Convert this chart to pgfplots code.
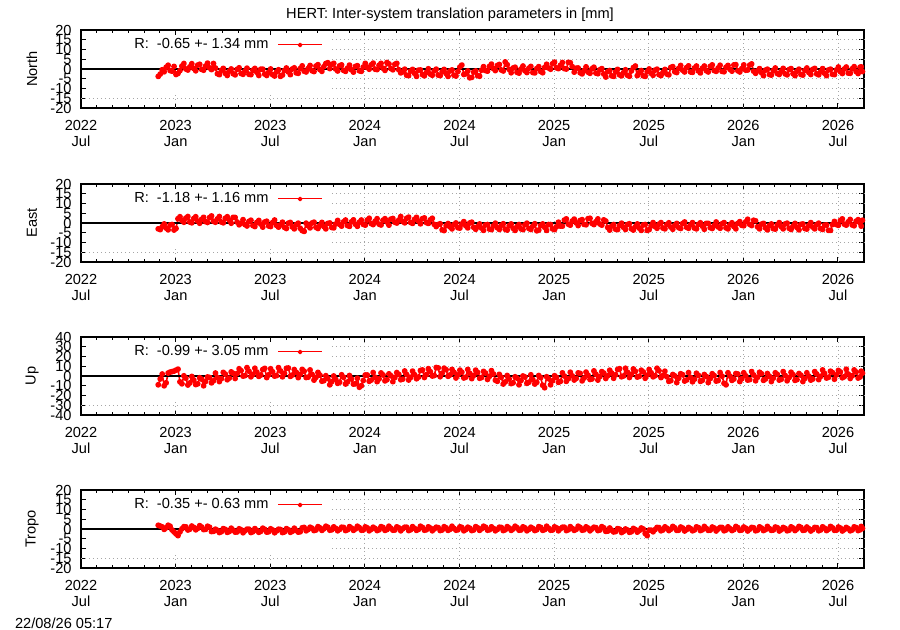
\documentclass[border=0pt]{standalone}
\usepackage{fontspec}
\setmainfont{Liberation Sans}
\usepackage{pgfplots}
\usepackage{pgfplotstable}
\pgfplotsset{compat=1.18}

% columns: month since 2022 Jul, North, East, Up, Tropo [mm]
\pgfplotstableread{
x n e u t
4.9 -3.8 -3.0 -9.0 1.9
5.025 -2.6 -3.4 -3.0 1.5
5.15 -0.4 -1.9 2.0 1.1
5.275 -1.4 -0.5 -10.0 -0.2
5.4 0.9 -2.6 -7.0 0.6
5.525 1.9 -3.5 3.0 1.9
5.65 -0.8 -1.0 4.0 1.4
5.775 -1.1 -0.8 4.5 -0.5
5.9 1.3 -3.6 5.0 -1.5
6.025 -2.8 -2.8 6.0 -2.5
6.15 -2.3 2.2 7.0 -3.4
6.275 -0.8 3.2 -6.0 -1.5
6.4 1.5 1.3 -8.0 0.1
6.525 2.8 0.4 0.2 1.2
6.65 0.0 2.5 -2.3 1.1
6.775 -0.5 3.3 -9.2 -0.5
6.9 1.1 0.5 -7.1 -0.1
7.025 2.7 0.1 -0.5 1.5
7.15 0.3 2.3 -4.1 0.8
7.275 -0.9 3.2 -8.8 -0.4
7.4 2.0 1.0 -8.0 0.3
7.525 2.4 -0.1 -1.8 1.7
7.65 -0.2 1.9 -3.2 1.0
7.775 -0.6 2.9 -10.0 -0.3
7.9 1.5 0.7 -5.6 -0.2
8.025 3.0 0.3 -1.0 1.4
8.15 0.6 2.8 -1.5 0.9
8.275 -0.3 3.6 -7.0 -1.3
8.4 2.8 0.9 -4.9 -1.2
8.525 0.5 0.4 3.0 -0.1
8.65 -2.4 2.1 -1.5 -0.7
8.775 -2.9 3.3 -5.7 -1.8
8.9 -0.7 0.5 -2.7 -1.4
9.025 0.3 0.1 3.7 0.2
9.15 -2.2 2.4 1.9 -0.2
9.275 -3.3 3.2 -3.8 -1.7
9.4 -1.1 1.5 -2.2 -1.3
9.525 0.0 -0.1 4.2 0.4
9.65 -2.4 2.9 2.7 -0.6
9.775 -3.0 2.8 -2.5 -1.6
9.9 -0.2 0.5 2.5 -1.5
10.025 0.6 -0.9 7.4 0.1
10.15 -2.3 -0.1 5.5 -0.4
10.275 -2.7 1.7 -0.1 -1.9
10.4 -1.0 -0.8 0.4 -0.9
10.525 0.4 -1.5 8.6 -0.1
10.65 -2.7 0.8 4.9 -0.1
10.775 -2.9 1.4 -0.8 -1.8
10.9 -0.6 -1.3 1.6 -1.4
11.025 0.3 -1.8 7.9 0.2
11.15 -1.7 0.3 4.0 -0.7
11.275 -3.3 1.3 -0.4 -1.7
11.4 -0.1 -0.6 1.0 -1.2
11.525 -0.1 -2.1 6.6 0.4
11.65 -2.6 0.5 7.8 -0.2
11.775 -3.3 0.9 -1.6 -1.6
11.9 -1.7 -1.5 1.3 -1.4
12.025 0.0 -1.8 7.4 0.1
12.15 -2.9 0.2 4.3 -0.5
12.275 -3.6 1.5 -0.1 -1.9
12.4 -1.5 -1.2 0.4 -1.0
12.525 -0.4 -2.1 8.6 -0.1
12.65 -3.8 -1.0 5.2 -0.3
12.775 -3.1 0.4 -0.8 -1.8
12.9 -0.8 -2.2 2.8 -1.5
13.025 0.5 -2.8 7.9 0.2
13.15 -1.5 -0.1 8.2 -0.4
13.275 -2.9 0.3 -0.4 -1.7
13.4 0.0 -2.0 1.0 -1.2
13.525 0.6 -3.0 6.6 0.4
13.65 -2.0 -0.8 3.7 -0.7
13.775 -2.2 -0.1 -1.7 -1.6
13.9 0.2 -2.7 1.7 -1.4
14.025 1.6 -3.9 6.8 0.6
14.15 -1.1 -4.3 4.9 0.8
14.275 -1.5 -0.1 -1.5 -0.9
14.4 0.2 -1.4 -1.2 -0.3
14.525 1.8 -2.5 6.2 0.9
14.65 -0.9 0.0 1.7 0.4
14.775 -1.3 0.4 -4.2 -0.8
14.9 1.5 -2.2 -1.4 -0.5
15.025 2.2 -2.8 3.7 1.2
15.15 -0.3 -1.1 0.9 0.6
15.275 -1.2 0.3 -5.3 -0.7
15.4 1.2 -1.8 -4.8 0.1
15.525 2.8 -3.0 0.3 1.4
15.65 3.2 -0.2 -2.5 0.9
15.775 0.2 0.0 -9.0 -0.6
15.9 2.3 -2.3 -5.8 -0.4
16.025 2.9 -2.5 0.0 1.1
16.15 0.0 -0.5 -3.4 0.3
16.275 -1.0 1.3 -7.5 -0.9
16.4 1.6 -0.7 -6.4 -0.2
16.525 2.1 -1.6 1.2 0.9
16.65 -0.7 0.6 -1.3 0.8
16.775 -1.2 1.5 -8.2 -0.8
16.9 0.4 -1.3 -6.1 -0.4
17.025 2.0 -1.7 0.5 1.2
17.15 -0.4 0.6 -3.1 0.5
17.275 -1.6 1.6 -8.3 -0.7
17.4 1.3 -0.6 -8.0 0.0
17.525 1.7 -1.7 -2.3 1.4
17.65 -0.9 0.4 -11.5 0.7
17.775 -1.2 1.5 -10.0 -0.6
17.9 1.0 -0.7 -4.6 -0.5
18.025 2.9 -1.1 1.0 1.1
18.15 0.8 1.5 1.0 0.6
18.275 -0.1 2.4 -5.4 -0.9
18.4 2.1 -0.3 -4.2 -0.2
18.525 3.0 -0.8 3.5 0.9
18.65 -0.1 0.9 -1.3 0.3
18.775 -0.3 2.2 -5.8 -0.8
18.9 1.9 -0.6 -3.0 -0.4
19.025 2.9 -1.0 3.1 1.2
19.15 0.4 1.4 1.1 0.8
19.275 -0.7 2.2 -5.0 -0.7
19.4 3.3 0.5 -3.8 -0.3
19.525 2.6 -1.1 2.2 1.4
19.65 0.2 2.0 0.3 0.4
19.775 -0.4 2.3 -5.8 -0.6
19.9 2.4 0.4 -1.6 -0.5
20.025 2.9 0.0 3.5 1.1
20.15 -0.4 1.5 1.7 0.6
20.275 -2.0 3.3 -3.8 -0.9
20.4 -1.5 0.8 -3.2 0.1
20.525 -0.1 0.1 5.1 0.9
20.65 -3.2 2.4 1.5 0.9
20.775 -3.4 3.0 -4.1 -0.8
20.9 -1.1 0.3 -1.5 -0.4
21.025 -0.2 -0.2 5.0 1.2
21.15 -2.2 1.9 1.4 0.3
21.275 -3.8 2.9 -2.8 -0.7
21.4 -0.6 1.0 -1.1 -0.2
21.525 -0.5 -0.4 5.6 1.4
21.65 -2.9 2.2 6.2 0.8
21.775 -3.5 2.6 -1.5 -0.6
21.9 -1.8 0.2 1.4 -0.4
22.025 0.1 -0.2 7.5 1.1
22.15 -2.6 1.6 4.4 0.5
22.275 -3.2 2.4 0.0 -0.9
22.4 -0.9 -0.7 0.5 0.0
22.525 -0.1 -1.8 8.7 0.9
22.65 -3.1 -0.8 8.3 0.7
22.775 -3.4 -0.4 -0.7 -0.8
22.9 -1.4 -3.5 2.9 -0.5
23.025 -0.2 -3.9 8.0 1.2
23.15 -2.3 -1.4 6.5 0.6
23.275 -3.8 -0.3 -0.3 -0.7
23.4 -1.0 -2.0 1.1 -0.2
23.525 -0.5 -3.0 6.7 1.4
23.65 -3.2 -0.8 3.8 0.3
23.775 -3.6 0.0 -2.0 -0.6
23.9 -1.3 -2.4 1.0 -0.4
24.025 1.0 -2.6 6.0 1.1
24.15 2.0 -0.5 3.9 0.8
24.275 -2.8 0.7 -2.0 -0.9
24.4 -2.5 -1.4 -1.2 -0.3
24.525 -1.0 -2.5 6.7 0.9
24.65 -4.5 0.0 2.7 0.4
24.775 -4.3 0.4 -2.7 -0.8
24.9 -1.6 -2.2 0.6 -0.5
25.025 -1.0 -3.2 6.0 1.2
25.15 -3.4 -1.9 3.6 0.6
25.275 -3.7 -0.5 -2.3 -0.7
25.4 -0.6 -2.6 -1.5 0.1
25.525 1.2 -3.8 4.7 1.4
25.65 -0.8 -1.0 3.0 0.9
25.775 -1.1 -0.8 -3.5 -0.6
25.9 1.3 -3.1 -0.3 -0.4
26.025 2.5 -3.4 5.5 1.1
26.15 0.2 -1.5 2.1 0.3
26.275 -0.8 -0.1 -4.3 -0.9
26.4 1.8 -2.4 -5.4 -0.2
26.525 2.3 -3.3 1.7 0.9
26.65 -0.5 -1.2 -1.3 0.8
26.775 -1.0 -0.4 -8.2 -0.8
26.9 3.6 -3.2 -6.1 -0.4
27.025 2.2 -3.6 0.5 1.2
27.15 -0.2 -1.4 -3.1 0.5
27.275 -1.9 -0.5 -7.8 -0.7
27.4 0.5 -2.7 -7.0 0.0
27.525 0.9 -3.8 -0.8 1.4
27.65 -1.7 -1.8 -2.2 0.7
27.775 -2.1 -0.8 -9.0 -0.6
27.9 0.0 -3.0 -4.6 -0.5
28.025 1.5 -3.4 0.0 1.1
28.15 -0.9 -0.9 -1.0 0.6
28.275 -1.8 -0.1 -7.5 -0.9
28.4 0.4 -2.8 -6.4 -0.2
28.525 1.3 -3.3 1.2 0.9
28.65 -1.8 -1.6 -3.7 0.3
28.775 -2.0 -0.4 -8.2 -0.8
28.9 0.2 -4.0 -6.5 -0.4
29.025 1.2 -3.6 0.5 1.2
29.15 -1.3 -1.3 -1.6 0.8
29.275 -1.9 -0.5 -9.5 -0.7
29.4 0.8 -2.2 -12.0 -0.3
29.525 2.4 -3.8 -0.8 1.4
29.65 0.5 -0.8 -2.8 0.4
29.775 -0.1 -0.8 -9.0 -0.6
29.9 2.7 -3.0 -4.9 -0.5
30.025 3.5 -3.4 0.3 1.1
30.15 0.6 -1.9 -1.4 0.6
30.275 0.2 0.4 -6.5 -0.9
30.4 1.9 -1.6 -5.5 0.1
30.525 3.3 -1.6 3.2 0.9
30.65 0.2 1.5 0.0 0.9
30.775 0.0 2.1 -5.5 -0.8
30.9 3.4 -0.6 -2.8 -0.4
31.025 3.2 -1.1 3.8 1.2
31.15 1.2 1.0 0.1 0.3
31.275 -1.6 2.0 -4.1 -0.7
31.4 0.4 0.1 -2.4 -0.2
31.525 0.5 -1.3 3.2 1.4
31.65 -1.9 1.3 2.7 0.8
31.775 -2.5 1.7 -5.0 -0.6
31.9 -0.8 -0.7 -2.1 -0.4
32.025 1.1 -0.9 4.0 1.1
32.15 -1.6 2.2 0.9 0.5
32.275 -2.2 2.4 -3.5 -0.9
32.4 0.1 -0.2 -3.0 0.0
32.525 0.9 -0.8 5.2 0.9
32.65 -2.1 0.7 1.8 0.7
32.775 -2.4 2.1 -4.2 -0.8
32.9 -0.4 -0.5 -0.6 -0.5
33.025 0.2 -1.1 4.5 1.2
33.15 -2.6 1.6 3.0 0.6
33.275 -4.1 1.0 -2.5 -1.2
33.4 -1.3 -2.3 0.3 -1.1
33.525 -0.8 -3.6 5.9 0.5
33.65 -3.5 -1.6 3.0 -0.6
33.775 -3.8 -0.8 -2.3 -1.5
33.9 -1.5 -3.2 1.2 -1.3
34.025 -0.2 -3.4 6.7 0.2
34.15 -3.0 -1.3 7.5 -0.1
34.275 -3.5 -0.1 -0.8 -1.8
34.4 -1.9 -2.2 0.0 -1.2
34.525 -0.4 -3.3 7.9 0.0
34.65 -3.2 -0.8 3.9 -0.5
34.775 -3.7 -0.4 -1.5 -1.7
34.9 -1.0 -3.0 1.8 -1.4
35.025 0.7 -3.6 7.2 0.3
35.15 1.5 -1.9 4.8 -0.3
35.275 -3.4 -0.5 -1.1 -1.6
35.4 -1.8 -2.6 -0.3 -0.8
35.525 -0.8 -3.8 5.9 0.5
35.65 -3.5 -1.0 4.2 0.0
35.775 -3.8 -0.8 -2.3 -2.3
35.9 -1.4 -3.8 0.9 -3.4
36.025 0.0 -3.4 6.7 -0.6
36.15 -2.2 -1.5 3.3 -0.6
36.275 -3.2 0.2 -0.8 -1.4
36.4 -0.6 -1.8 0.3 -0.3
36.525 -0.1 -2.7 7.9 0.8
36.65 -2.9 -0.6 5.4 0.7
36.775 -3.4 0.2 -1.6 -0.9
36.9 -1.8 -2.6 0.4 -0.5
37.025 -0.2 -3.0 4.9 1.1
37.15 -2.6 -0.8 -0.8 0.4
37.275 -3.0 0.1 -5.5 -0.8
37.4 0.8 -2.1 -4.7 -0.1
37.525 1.2 -3.2 1.5 1.3
37.65 -1.4 -1.2 0.1 0.6
37.775 -1.8 -0.2 -6.7 -0.7
37.9 0.3 -2.4 -2.3 -0.6
38.025 1.8 -2.8 2.3 1.0
38.15 -0.6 -0.3 1.3 0.5
38.275 -1.5 0.5 -5.2 -1.0
38.4 0.7 -2.2 -4.1 -0.3
38.525 1.6 -2.7 3.5 0.8
38.65 -1.5 -1.0 -1.4 0.2
38.775 -1.7 0.2 -5.9 -0.9
38.9 0.5 -2.6 -3.2 -0.5
39.025 1.5 -3.0 2.8 1.1
39.15 -1.0 -0.7 0.7 0.7
39.275 -2.0 0.1 -5.5 -0.8
39.4 0.4 -1.6 -4.4 -0.4
39.525 1.5 -3.2 1.5 1.3
39.65 -0.9 -0.2 -0.5 0.3
39.775 -1.5 -0.2 -6.7 -0.7
39.9 1.3 -2.4 -2.6 -0.6
40.025 2.1 -2.8 2.3 1.0
40.15 -0.8 -1.3 0.4 0.5
40.275 -1.2 0.5 -5.2 -1.0
40.4 0.5 -2.0 -4.7 0.0
40.525 1.9 -2.7 3.5 0.8
40.65 -1.2 -0.4 -0.2 0.8
40.775 -1.4 0.2 -7.5 -0.9
40.9 0.9 -2.5 -9.0 -0.5
41.025 1.8 -3.0 3.3 1.1
41.15 -0.2 -0.9 -0.1 0.2
41.275 -1.1 0.1 -4.5 -0.8
41.4 2.1 -1.8 -3.1 -0.3
41.525 2.2 -3.0 2.5 1.3
41.65 -0.9 -0.2 2.0 0.7
41.775 -1.5 0.7 -5.7 -0.7
41.9 0.2 -1.2 -2.8 -0.5
42.025 2.1 -1.4 3.3 1.0
42.15 -0.6 0.6 0.2 0.4
42.275 -0.5 1.9 -4.2 -1.0
42.4 2.0 -0.7 -3.7 -0.1
42.525 2.6 -1.3 4.5 0.8
42.65 -1.1 1.4 1.1 0.6
42.775 -2.2 1.1 -4.9 -0.9
42.9 -1.0 -2.0 -1.3 -0.6
43.025 0.2 -3.0 3.8 1.1
43.15 -1.9 -0.6 2.3 0.5
43.275 -3.4 -0.2 -4.5 -0.8
43.4 -0.6 -2.5 -3.1 -0.3
43.525 -0.1 -3.5 2.5 1.3
43.65 -2.8 -1.3 -0.4 0.2
43.775 -3.1 -0.5 -5.7 -0.7
43.9 -0.8 -2.9 -2.2 -0.5
44.025 0.5 -3.1 3.3 1.0
44.15 -2.3 -1.0 1.7 0.7
44.275 -2.8 0.2 -4.2 -1.0
44.4 -1.2 -1.9 -3.4 -0.4
44.525 0.3 -3.0 4.5 0.8
44.65 -2.5 -0.5 0.5 0.3
44.775 -3.0 -0.1 -4.9 -0.9
44.9 -0.3 -2.7 -1.6 -0.6
45.025 0.2 -3.3 3.8 1.1
45.15 -2.4 -1.6 1.4 0.5
45.275 -3.4 -0.2 -4.5 -0.8
45.4 -1.1 -2.3 -3.7 0.0
45.525 -0.1 -3.5 2.5 1.3
45.65 -2.8 -0.7 0.8 0.8
45.775 -3.1 -0.5 -5.7 -0.7
45.9 -0.7 -2.8 -2.5 -0.5
46.025 0.5 -3.1 3.3 1.0
46.15 -1.8 -1.2 -0.1 0.2
46.275 -2.8 0.2 -4.2 -1.0
46.4 -0.2 -2.1 -3.1 -0.3
46.525 0.3 -3.0 4.5 0.8
46.65 -2.5 -0.9 2.0 0.7
46.775 -3.0 -0.1 -3.7 -0.9
46.9 -1.4 -2.9 -0.4 -0.5
47.025 0.2 -3.3 6.2 1.1
47.15 -2.2 -1.1 2.6 0.4
47.275 -3.4 -1.0 -2.1 -0.8
47.4 -0.5 -3.8 -1.3 -0.1
47.525 -0.1 -3.8 4.9 1.3
47.65 -2.7 -0.8 3.5 0.6
47.775 -2.9 0.8 -3.3 -0.7
47.9 -0.5 -0.8 1.1 -0.6
48.025 1.0 -1.2 5.7 1.0
48.15 -1.4 1.3 4.2 0.5
48.275 -2.3 2.1 -1.8 -1.0
48.4 0.0 -0.6 -0.7 -0.3
48.525 1.0 -1.1 6.9 0.8
48.65 -2.1 0.6 2.0 0.2
48.775 -2.2 1.8 -2.5 -0.9
48.9 0.1 -1.0 0.2 -0.5
49.025 1.2 -1.4 6.2 1.1
49.15 -1.3 0.9 4.1 0.7
49.275 -2.3 1.7 -2.1 -0.8
49.4 0.9 0.0 -1.0 -0.4
49.475 1.1 -1.6 4.9 1.3
49.55 -1.3 1.4 2.9 0.3
}\hert

\newcommand\fs{\fontsize{7.3}{7.8}\selectfont}

\tikzset{gridline/.style={gray!70, line width=0.4pt, dash pattern=on 0.5pt off 1.5pt}}

% dotted grid, left blank where gnuplot's opaque key box sits
% #1 levels right of the box, #2 ymin, #3 ymax, #4 box bottom, #5 full-width level
\newcommand\panelgrid[5]{%
  \pgfplotsinvokeforeach{#1}{\draw[gridline] (axis cs:15.9,##1) -- (axis cs:49.65,##1);}%
  \draw[gridline] (axis cs:0,#5) -- (axis cs:49.65,#5);%
  \pgfplotsinvokeforeach{18,24,30,36,42,48}{\draw[gridline] (axis cs:##1,#2) -- (axis cs:##1,#3);}%
  \pgfplotsinvokeforeach{6,12}{\draw[gridline] (axis cs:##1,#2) -- (axis cs:##1,#4);}%
}

\pgfplotsset{
  panel/.style={
    scale only axis, width=391.5pt, height=39pt,
    anchor=north west, clip=false,
    xmin=0, xmax=49.65,
    xtick={0,6,12,18,24,30,36,42,48},
    minor x tick num=5,
    xticklabels={{2022\\Jul},{2023\\Jan},{2023\\Jul},{2024\\Jan},{2024\\Jul},{2025\\Jan},{2025\\Jul},{2026\\Jan},{2026\\Jul}},
    xticklabel style={align=center, inner sep=0pt, font=\fs},
    yticklabel style={inner sep=0pt, font=\fs},
    xticklabel shift=6pt, yticklabel shift=4.5pt,
    tick align=inside,
    major tick length=2.5pt, minor tick length=1.5pt,
    tick style={black, line width=0.5pt},
    axis line style={line width=1pt},
    legend plot pos=right,
    legend style={at={(rel axis cs:0.309,0.808)}, anchor=east, draw=none, fill=none,
      inner sep=0pt, column sep=4.5pt, font=\fs, nodes={inner sep=0pt}},
    legend image code/.code={%
      \draw[red, line width=0.5pt] (0pt,0pt) -- (22pt,0pt);
      \fill[red] (11pt,0pt) circle[radius=0.8pt];},
  },
  small/.style={ymin=-20, ymax=20, ytick={-20,-15,...,20},
    yticklabels={-20,-15,-10,-5,0,5,10,15,20}},
  big/.style={ymin=-40, ymax=40, ytick={-40,-30,...,40},
    yticklabels={-40,-30,-20,-10,0,10,20,30,40}},
  series/.style={red, line width=0.8pt, line join=round, mark=*, mark size=1.05pt},
}

\newcommand\ylab[1]{\node[rotate=90, font=\fs] at ([xshift=-24.5pt]rel axis cs:0,0.5) {#1};}

\begin{document}
\begin{tikzpicture}[font=\fs]
\path[use as bounding box] (0,0) rectangle (450pt,-315pt);
\node at (225pt,-7.5pt) {HERT: Inter-system translation parameters in [mm]};
\node[anchor=west] at (4pt,-311.5pt) {22/08/26 05:17};

\begin{axis}[panel, small, at={(40.5pt,-15pt)}]
  \panelgrid{15,10,5,-5,-10}{-20}{20}{-12.5}{-15}
  \addplot[series] table[x=x, y=n] {\hert};
  \addlegendentry{R:\ \ -0.65 +- 1.34 mm}
  \addplot[black, line width=0.6pt, forget plot] coordinates {(0,0) (49.65,0)};
  \ylab{North}
\end{axis}

\begin{axis}[panel, small, at={(40.5pt,-92pt)}]
  \panelgrid{15,10,5,-5,-10}{-20}{20}{-12.5}{-15}
  \addplot[series] table[x=x, y=e] {\hert};
  \addlegendentry{R:\ \ -1.18 +- 1.16 mm}
  \addplot[black, line width=0.6pt, forget plot] coordinates {(0,0) (49.65,0)};
  \ylab{East}
\end{axis}

\begin{axis}[panel, big, at={(40.5pt,-168.5pt)}]
  \panelgrid{30,20,10,-10,-20}{-40}{40}{-25}{-30}
  \addplot[series] table[x=x, y=u] {\hert};
  \addlegendentry{R:\ \ -0.99 +- 3.05 mm}
  \addplot[black, line width=0.8pt, forget plot] coordinates {(0,0) (49.65,0)};
  \ylab{Up}
\end{axis}

\begin{axis}[panel, small, at={(40.5pt,-245pt)}]
  \panelgrid{15,10,5,-5,-10}{-20}{20}{-12.5}{-15}
  \addplot[series] table[x=x, y=t] {\hert};
  \addlegendentry{R:\ \ -0.35 +- 0.63 mm}
  \addplot[black, line width=0.6pt, forget plot] coordinates {(0,0) (49.65,0)};
  \ylab{Tropo}
\end{axis}
\end{tikzpicture}
\end{document}
